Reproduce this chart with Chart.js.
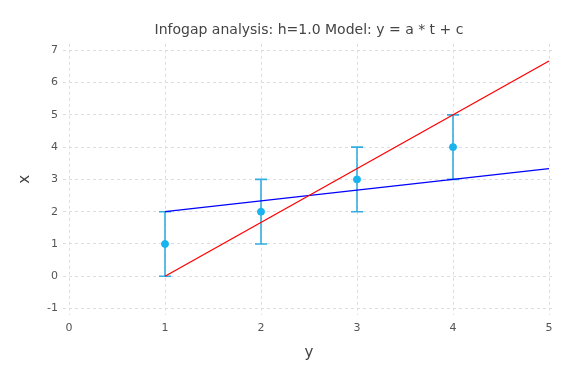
<!DOCTYPE html>
<html>
<head>
<meta charset="utf-8">
<script src="https://cdn.jsdelivr.net/npm/chart.js@4"></script>
<style>
  html, body { margin: 0; padding: 0; background: #fff; }
  #wrap { width: 576px; height: 384px; }
</style>
</head>
<body>
<div id="wrap"><canvas id="c" width="576" height="384"></canvas></div>
<script>
// data
const obsX = [1, 2, 3, 4];
const obsY = [1, 2, 3, 4];
const errLow = [0, 1, 2, 3];
const errHigh = [2, 3, 4, 5];
const redX = [1, 5];
const redY = [0, 6.667];
const blueX = [1, 5];
const blueY = [2, 3.333];
const xTicks = [0, 1, 2, 3, 4, 5];
const yTicks = [-1, 0, 1, 2, 3, 4, 5, 6, 7];

const FONT = 'Tahoma, "DejaVu Sans", sans-serif';
const pts = (xs, ys) => xs.map((x, i) => ({ x, y: ys[i] }));

// error bars drawn through the chart scales
const errorBars = {
  id: 'errorBars',
  beforeDatasetsDraw(chart) {
    const { ctx, scales: { x, y } } = chart;
    ctx.save();
    ctx.strokeStyle = '#35ade0';
    ctx.lineWidth = 1.6;
    obsX.forEach((v, i) => {
      const px = x.getPixelForValue(v);
      const top = y.getPixelForValue(errHigh[i]);
      const bot = y.getPixelForValue(errLow[i]);
      ctx.beginPath();
      ctx.moveTo(px, top); ctx.lineTo(px, bot);
      ctx.moveTo(px - 6, top); ctx.lineTo(px + 6, top);
      ctx.moveTo(px - 6, bot); ctx.lineTo(px + 6, bot);
      ctx.stroke();
    });
    ctx.restore();
  },
};

new Chart(document.getElementById('c'), {
  type: 'scatter',
  data: {
    datasets: [
      { data: pts(redX, redY), showLine: true, borderColor: '#ff0000', borderWidth: 1.3,
        pointRadius: 0, fill: false, order: 2 },
      { data: pts(blueX, blueY), showLine: true, borderColor: '#0000ff', borderWidth: 1.3,
        pointRadius: 0, fill: false, order: 2 },
      { data: pts(obsX, obsY), backgroundColor: '#19b4ee', borderColor: '#19b4ee',
        pointRadius: 3.5, order: 0 },
    ],
  },
  options: {
    responsive: false,
    animation: false,
    layout: { padding: { left: 12, right: 21, top: 0, bottom: 18 } },
    plugins: {
      legend: { display: false },
      tooltip: { enabled: false },
      title: {
        display: true, fullSize: false,
        text: 'Infogap analysis: h=1.0 Model: y = a * t + c',
        color: '#444', font: { family: FONT, size: 14, weight: 'normal' },
        padding: { top: 22, bottom: 5 },
      },
    },
    scales: {
      x: {
        type: 'linear', min: -0.0625, max: 5.0625,
        afterBuildTicks: s => { s.ticks = xTicks.map(v => ({ value: v })); },
        afterFit: s => { s.height = 51; },
        ticks: { color: '#555', font: { family: FONT, size: 11 }, padding: 7 },
        grid: { color: '#dcdce8', drawTicks: false },
        border: { display: false, dash: [3, 3] },
        title: { display: true, text: 'y', color: '#444', font: { family: FONT, size: 15 }, padding: { top: 8, bottom: 4 } },
      },
      y: {
        type: 'linear', min: -1.2, max: 7.2,
        afterBuildTicks: s => { s.ticks = yTicks.map(v => ({ value: v })); },
        afterFit: s => { s.width = 51; },
        ticks: { color: '#555', font: { family: FONT, size: 11 }, padding: 5 },
        grid: { color: '#dcdce8', drawTicks: false },
        border: { display: false, dash: [3, 3] },
        title: { display: true, text: 'x', color: '#444', font: { family: FONT, size: 15 }, padding: { bottom: 10 } },
      },
    },
  },
  plugins: [errorBars],
});
</script>
</body>
</html>
